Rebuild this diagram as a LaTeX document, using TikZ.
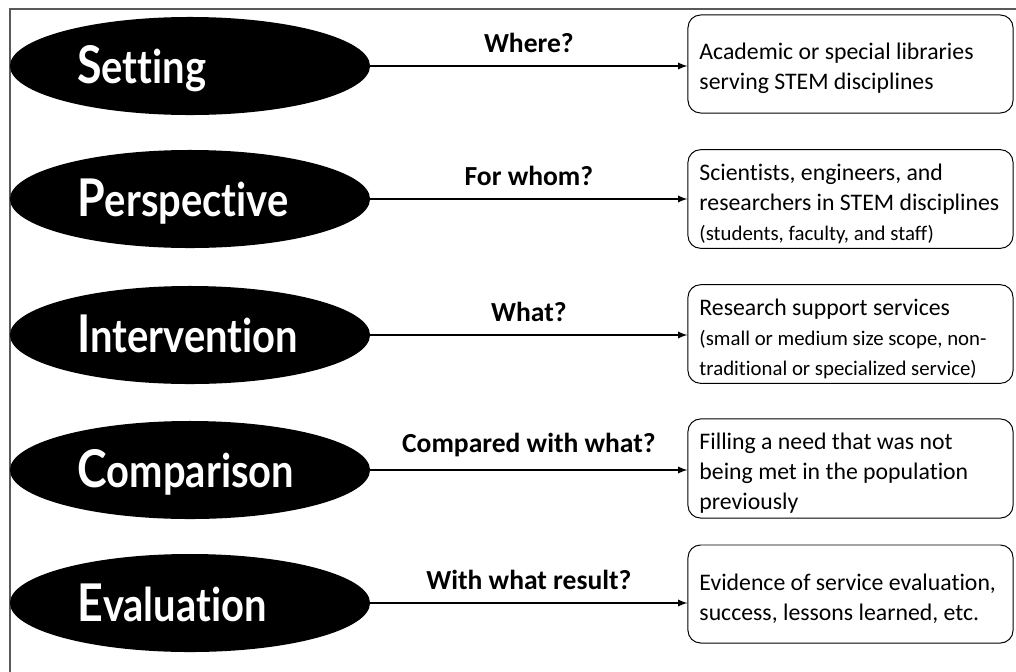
\documentclass[tikz,border=0pt]{standalone}
\usepackage{fontspec}
\setmainfont{Carlito}[Ligatures=NoCommon]
\newfontfamily\ovalfont{Lato}[Ligatures=NoCommon]
\usetikzlibrary{shapes.geometric}

% oval word: larger initial, squeezed a little
\newcommand{\spice}[2]{\scalebox{0.86}[1]{{\fontsize{37}{40}\selectfont #1}#2}}
\newcommand{\lesser}{\fontsize{14.8}{19}\selectfont}

\begin{document}
\begin{tikzpicture}[
    x=0.025cm, y=-0.025cm,
    >=latex,
    oval/.style={ellipse, fill=black, minimum width=9cm, minimum height=2.45cm, inner sep=0pt},
    word/.style={anchor=base west, text=white, inner sep=0pt,
      font=\ovalfont\bfseries\fontsize{33}{38}\selectfont},
    ask/.style={above, inner sep=9pt, font=\bfseries\fontsize{19.6}{22}\selectfont},
    answer/.style={draw, rounded corners=9pt, line width=0.7pt, align=flush left,
      text width=7.55cm, minimum height=2.45cm, inner xsep=0.2875cm,
      font=\fontsize{16.9}{21.3}\selectfont,
      execute at begin node={\rule{0pt}{18.5pt}}}
  ]
  \useasboundingbox (0,0) rectangle (1016,671);
  \draw[gray!70!black, line width=0.8pt] (10,700) -- (10,9) -- (1040,9);

  % the five SPICE ovals
  \node[oval] (set) at (190,66) {};
  \node[oval] (per) at (190,199) {};
  \node[oval] (int) at (190,335) {};
  \node[oval] (com) at (190,470) {};
  \node[oval] (eva) at (190,603) {};
  \node[word] (setw) at (77,83) {\spice{S}{etting}};
  \node[word] (perw) at (77,216) {\spice{P}{erspective}};
  \node[word] (intw) at (77,352) {\spice{I}{ntervention}};
  \node[word] (comw) at (77,487) {\spice{C}{omparison}};
  \node[word] (evaw) at (77,621) {\spice{E}{valuation}};

  % the answers
  \node[answer] (setbox) at (850.5,64) {Academic or special libraries\\serving STEM disciplines};
  \node[answer] (perbox) at (850.5,199) {Scientists, engineers, and\\researchers in STEM disciplines\\{\lesser (students, faculty, and staff)}};
  \node[answer] (intbox) at (850.5,334) {Research support services\\{\lesser (small or medium size scope, non-}\\{\lesser traditional or specialized service)}};
  \node[answer] (combox) at (850.5,468.5) {Filling a need that was not\\being met in the population\\previously};
  \node[answer] (evabox) at (850.5,594) {Evidence of service evaluation,\\success, lessons learned, etc.};

  \draw[->, line width=1.3pt] (set.east) -- node[ask] (q1) {Where?} (set.east -| setbox.west);
  \draw[->, line width=1.3pt] (per.east) -- node[ask] (q2) {For whom?} (per.east -| perbox.west);
  \draw[->, line width=1.3pt] (int.east) -- node[ask] (q3) {What?} (int.east -| intbox.west);
  \draw[->, line width=1.3pt] (com.east) -- node[ask] (q4) {Compared with what?} (com.east -| combox.west);
  \draw[->, line width=1.3pt] (eva.east) -- node[ask] (q5) {With what result?} (eva.east -| evabox.west);
\end{tikzpicture}
\end{document}
